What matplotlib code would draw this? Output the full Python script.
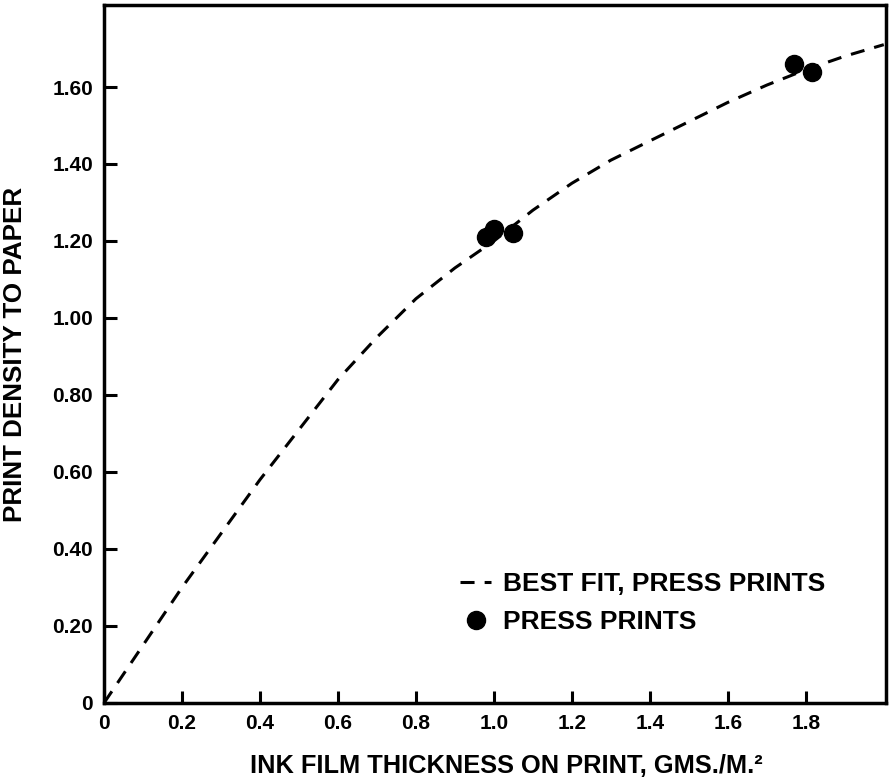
## Print density vs ink film thickness, press prints
import matplotlib
matplotlib.use("Agg")
import matplotlib.pyplot as plt

## Best fit curve
fitThickness = [0.0, 0.1, 0.2, 0.3, 0.4, 0.5, 0.6, 0.7, 0.8, 0.9, 1.0,
                1.1, 1.2, 1.3, 1.4, 1.5, 1.6, 1.7, 1.8, 1.9, 2.0]
fitDensity = [0.0, 0.15, 0.30, 0.44, 0.58, 0.71, 0.84, 0.95, 1.05, 1.13, 1.20,
              1.28, 1.35, 1.41, 1.46, 1.51, 1.56, 1.605, 1.645, 1.68, 1.71]

## Measured press prints
pressThickness = [0.98, 1.00, 1.05, 1.77, 1.815]
pressDensity = [1.21, 1.23, 1.22, 1.66, 1.64]

## Axis ticks
xTicks = [0, 0.2, 0.4, 0.6, 0.8, 1.0, 1.2, 1.4, 1.6, 1.8]
xTickLabels = ["0", "0.2", "0.4", "0.6", "0.8", "1.0", "1.2", "1.4", "1.6", "1.8"]
yTicks = [0, 0.2, 0.4, 0.6, 0.8, 1.0, 1.2, 1.4, 1.6]
yTickLabels = ["0", "0.20", "0.40", "0.60", "0.80", "1.00", "1.20", "1.40", "1.60"]

plt.rcParams['font.family'] = ['Liberation Sans', 'DejaVu Sans']
plt.rcParams['font.weight'] = 'bold'

fig = plt.figure(figsize=(8.92, 7.81), dpi=100)
ax = fig.add_axes([0.1166, 0.0999, 0.8764, 0.8937])

ax.plot(fitThickness, fitDensity, color='black', lw=2.2, dashes=(4.6, 3.3),
        label='BEST FIT, PRESS PRINTS')
ax.plot(pressThickness, pressDensity, 'o', color='black', markersize=13,
        label='PRESS PRINTS')

ax.set_xlim(0, 2.005)
ax.set_ylim(0, 1.813)
ax.set_xticks(xTicks)
ax.set_xticklabels(xTickLabels)
ax.set_yticks(yTicks)
ax.set_yticklabels(yTickLabels)
ax.tick_params(direction='in', length=9, width=2.2, labelsize=15, pad=8)

for spine in ax.spines.values():
    spine.set_linewidth(2.5)

ax.set_xlabel('INK FILM THICKNESS ON PRINT, GMS./M.\u00b2', fontsize=18.3,
              fontweight='bold')
ax.xaxis.set_label_coords(0.515, -0.073)
ax.set_ylabel('PRINT DENSITY TO PAPER', fontsize=18.7, fontweight='bold')
ax.yaxis.set_label_coords(-0.099, 0.5)

ax.legend(loc='upper left', bbox_to_anchor=(0.455, 0.188), frameon=False,
          fontsize=19, handlelength=1.2, handletextpad=0.45, labelspacing=0.55,
          borderpad=0, borderaxespad=0, numpoints=1)

plt.savefig("out.png", dpi=100)
